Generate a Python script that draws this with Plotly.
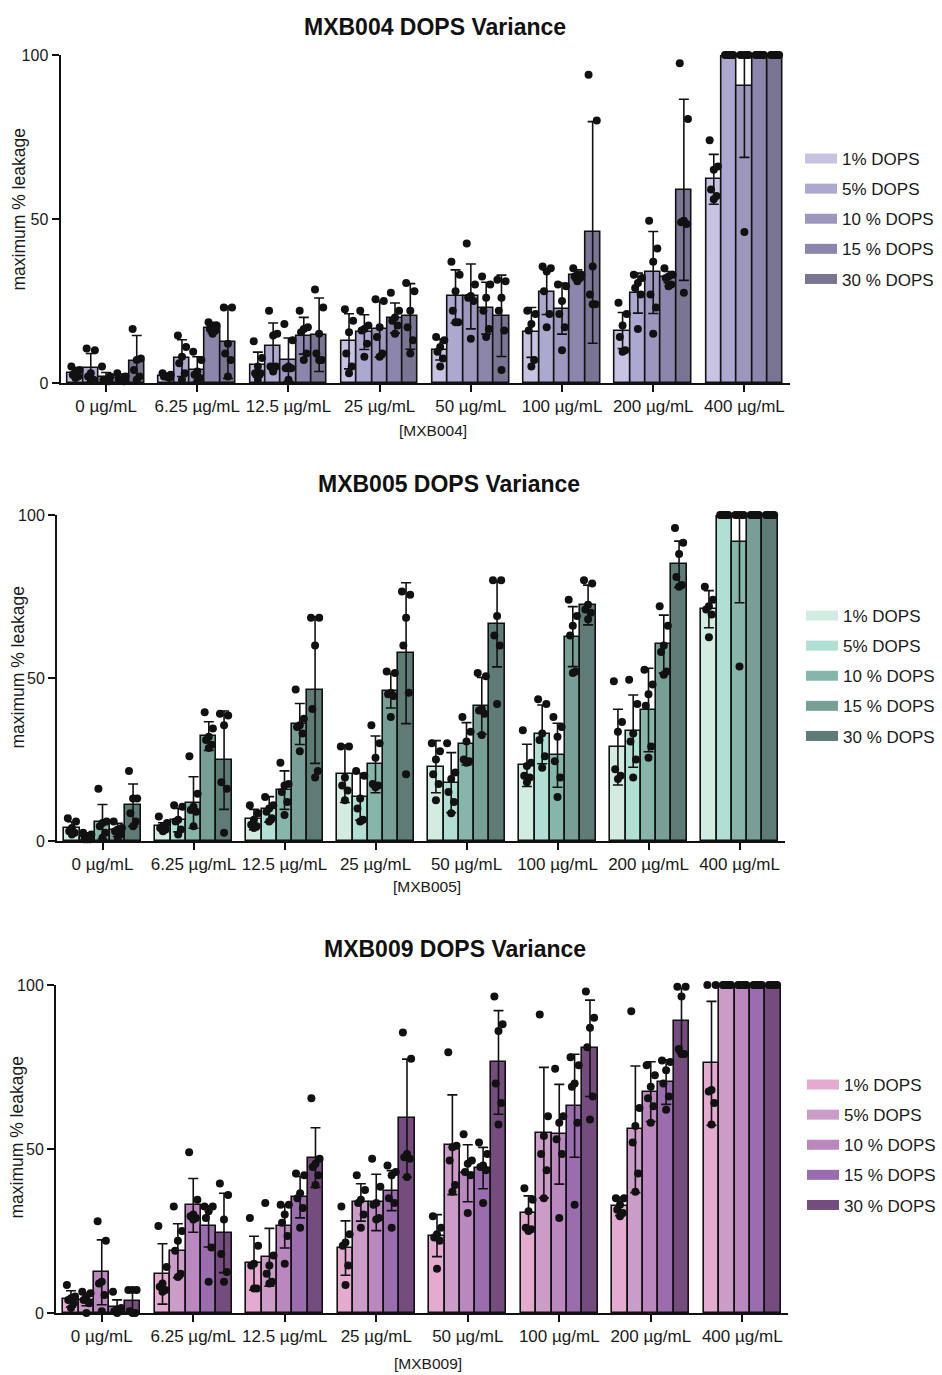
import plotly.graph_objects as go

# ---------------- data ----------------
CONCS = ["0 µg/mL", "6.25 µg/mL", "12.5 µg/mL", "25 µg/mL", "50 µg/mL",
         "100 µg/mL", "200 µg/mL", "400 µg/mL"]
SERIES = ["1% DOPS", "5% DOPS", "10 % DOPS", "15 % DOPS", "30 % DOPS"]
Y_TICKS = [0, 50, 100]

# ---- MXB004 ----
MXB004_MEAN = [
    [3.2, 2.2, 5.6, 12.7, 10.2, 15.4, 16.0, 62.1],
    [4.6, 7.6, 11.2, 15.5, 26.4, 27.7, 27.4, 100],
    [1.7, 4.1, 7.1, 16.4, 26.4, 22.7, 33.7, 90.6],
    [1.5, 16.8, 14.4, 19.8, 22.8, 32.9, 32.3, 100],
    [6.6, 12.4, 14.7, 20.3, 20.5, 45.9, 58.9, 100],
]
MXB004_SD = [
    [1.5, 0.5, 3.8, 8.4, 3.2, 7.6, 5.5, 7.6],
    [4.4, 5.6, 7.1, 5.3, 8.1, 6.8, 6.1, 0],
    [1.5, 3.9, 6.6, 8.5, 9.9, 7.8, 12.5, 21.8],
    [1.2, 1.7, 5.6, 4.6, 7.9, 1.6, 1.7, 0],
    [7.9, 11.0, 11.2, 10.0, 12.4, 33.8, 27.6, 0],
]
MXB004_PTS = [
    [[5, 4, 3.5, 2.5, 2, 1.5], [3, 2.5, 2, 2, 1.5, 2], [12.7, 7.6, 5, 3, 3, 1],
     [22.5, 19, 15.5, 9, 5, 3], [14, 13, 11, 9.5, 7.5, 5], [22, 21, 18, 16, 7, 5],
     [24.5, 21, 17.5, 14, 10, 9.5], [74, 66, 65, 59, 57, 56]],
    [[10.5, 10, 3, 2, 1, 1], [14.5, 11, 8, 6, 3, 1], [22, 15, 14.5, 5, 5, 3.5],
     [22, 17.5, 16.5, 16, 12, 8], [37, 33, 28, 22, 18.5, 18.5], [35.5, 35, 34, 28, 21, 17],
     [33, 32, 30.5, 29, 27, 16.5], [100, 100, 100, 100, 100, 100]],
    [[5, 2, 1, 1, 0.5, 0.5], [9.5, 7, 3.5, 2.5, 1.5, 0.5], [18, 13, 5, 4.5, 4.5, 1],
     [25.5, 25, 17, 14, 9, 8], [42.5, 30, 26.5, 26, 25, 13.5], [30, 29.5, 25, 21, 17, 10],
     [49.5, 41, 37, 27, 23, 15], [100, 100, 100, 100, 100, 46]],
    [[3, 2, 1, 1, 0.5, 1], [18.5, 17.5, 17, 16.5, 16, 15], [22, 17, 16.5, 15.5, 9, 7],
     [27.5, 22, 20, 19, 17.5, 15], [32.5, 30, 26, 22, 16.5, 14], [35, 33, 33, 32.5, 32, 31],
     [35, 33, 32.5, 32, 30, 29.5], [100, 100, 100, 100, 100, 100]],
    [[16.5, 7.5, 7, 4, 2, 1], [23, 23, 12, 9, 7, 2], [28.5, 23, 15, 9, 7, 7],
     [30.5, 28, 22, 17, 13, 9], [31.5, 31, 26, 22, 16, 4], [94, 80, 35.5, 27, 24, 24],
     [97.5, 80.5, 49.5, 49, 48.5, 27.5], [100, 100, 100, 100, 100, 100]],
]

# ---- MXB005 ----
MXB005_MEAN = [
    [4.1, 4.6, 6.6, 20.6, 22.8, 23.2, 28.8, 71.1],
    [1.3, 6.4, 9.7, 13.6, 17.9, 32.7, 33.7, 100],
    [5.9, 11.8, 15.6, 23.5, 29.8, 26.3, 40.2, 91.8],
    [3.4, 32.2, 35.9, 46.1, 41.5, 62.7, 60.4, 100],
    [11.0, 24.8, 46.3, 57.6, 66.5, 72.4, 84.9, 100],
]
MXB005_SD = [
    [1.8, 1.0, 3.1, 8.8, 8.0, 6.5, 11.6, 5.7],
    [1.0, 3.6, 3.9, 7.2, 9.2, 9.0, 11.1, 0],
    [5.3, 7.9, 5.9, 8.7, 6.5, 9.8, 12.8, 18.7],
    [2.0, 4.4, 6.3, 5.3, 8.7, 9.2, 8.9, 0],
    [6.5, 15.1, 22.5, 21.6, 13.1, 6.1, 7.1, 0],
]
MXB005_PTS = [
    [[7, 6, 4, 3, 2.5, 2], [7.5, 5.5, 4.5, 4, 3.5, 3], [11, 8.5, 6.5, 5, 4.5, 4],
     [29, 29, 19.5, 17, 15.5, 12.5], [30, 27.5, 25, 20.5, 17.5, 12.5], [34, 24, 23, 20, 19.5, 18],
     [49, 36.5, 33.5, 22, 20, 19], [78, 74, 72, 71, 69.5, 62.5]],
    [[2.5, 2, 1.5, 0.5, 0.5, 0.5], [11, 10.5, 6.5, 6, 3.5, 2], [13.5, 11, 10, 9, 7, 6],
     [21.5, 20, 13, 10, 6.5, 6], [30, 21, 19, 15, 12, 8.5], [43.5, 42, 33, 31, 26, 22.5],
     [49.5, 42, 33, 30.5, 25, 19.5], [100, 100, 100, 100, 100, 100]],
    [[16, 6, 5.5, 4.5, 2.5, 1], [26, 14.5, 10.5, 9.5, 9, 4.5], [24, 17.5, 17, 15, 12, 8],
     [35.5, 30, 25.5, 17.5, 17, 16.5], [38, 33.5, 30.5, 25, 24.5, 24], [38, 35, 32, 24.5, 19.5, 13.5],
     [52.5, 48, 45, 41.5, 29, 25.5], [100, 100, 100, 100, 100, 53.5]],
    [[6, 4, 3.5, 3, 2, 1], [39.5, 34.5, 32, 31, 29.5, 28.5], [46.5, 37.5, 35.5, 35, 33, 27.5],
     [52, 51.5, 45.5, 45, 44.5, 38], [51.5, 50.5, 40.5, 40, 39, 32.5], [74, 69, 66, 63, 52, 51.5],
     [72, 66, 60, 58, 52, 51], [100, 100, 100, 100, 100, 100]],
    [[21.5, 13, 13, 8.5, 6, 4.5], [39, 38.5, 35.5, 18, 16, 2.5], [68.5, 68.5, 60, 40.5, 21.5, 19.5],
     [76.5, 75.5, 68.5, 60, 45.5, 20.5], [80, 80, 69, 63, 60, 42], [80, 79, 72.5, 71, 70, 68],
     [96, 91.5, 88, 81, 78.5, 78], [100, 100, 100, 100, 100, 100]],
]

# ---- MXB009 ----
MXB009_MEAN = [
    [4.3, 11.9, 15.2, 19.8, 23.6, 30.5, 32.5, 76.1],
    [4.1, 19.0, 17.0, 33.7, 51.3, 55.0, 56.0, 100],
    [12.4, 32.8, 26.4, 33.7, 42.6, 54.5, 67.5, 100],
    [1.7, 26.4, 35.3, 37.3, 44.2, 63.2, 70.4, 100],
    [3.6, 24.4, 47.4, 59.4, 76.4, 80.7, 89.1, 100],
]
MXB009_SD = [
    [2.5, 9.2, 8.2, 8.3, 6.4, 5.2, 2.8, 18.9],
    [1.9, 8.2, 8.8, 5.7, 15.2, 19.9, 19.3, 0],
    [9.9, 8.2, 6.6, 8.6, 8.7, 15.2, 9.1, 0],
    [2.3, 6.3, 6.3, 6.1, 6.3, 15.7, 6.8, 0],
    [3.5, 12.1, 9.1, 18.0, 15.8, 14.7, 9.9, 0],
]
MXB009_PTS = [
    [[8.5, 5, 4.5, 4, 3, 1.5], [26.5, 14, 9, 8, 7, 6.5], [29, 20.5, 15, 14.5, 7.5, 7.5],
     [32.5, 24, 21.5, 20.5, 14.5, 8.5], [29.5, 26, 24, 23, 22, 13.5], [38, 34.5, 31, 26, 25.5, 25],
     [35, 35, 33, 31.5, 30.5, 29.5], [100, 100, 68, 67.5, 64, 57.5]],
    [[6.5, 6, 5, 4, 3, 0], [32.5, 25, 22, 19, 12, 11], [33.5, 17.5, 14.5, 12, 9.5, 9],
     [42, 37.5, 34.5, 33.5, 30, 26], [79.5, 51, 50.5, 46.5, 39, 37], [91, 60, 54, 48.5, 43.5, 35],
     [92, 62.5, 57, 52, 42.5, 37], [100, 100, 100, 100, 100, 100]],
    [[28, 22, 9.5, 9, 5.5, 0.5], [49, 34.5, 30, 29.5, 29, 28.5], [33, 33, 30, 27.5, 23.5, 15],
     [47, 38.5, 33.5, 33, 29, 28.5], [54.5, 46.5, 45.5, 43, 42, 30.5], [74.5, 60, 58, 53, 48.5, 29],
     [75.5, 72.5, 69, 65.5, 63, 58], [100, 100, 100, 100, 100, 100]],
    [[6.5, 1.5, 1, 0.5, 0.5, 0], [32.5, 32.5, 31, 29, 20, 9.5], [42.5, 42, 36.5, 35, 32, 26],
     [45, 43, 42, 35, 33.5, 26], [52, 48.5, 45, 44.5, 43.5, 33.5], [78, 75.5, 70, 69, 58, 33],
     [77, 76.5, 74, 70, 66, 62], [100, 100, 100, 100, 100, 100]],
    [[7, 7, 7, 0.5, 0, 0], [39.5, 36, 28.5, 18, 12.5, 9.5], [65.5, 47, 45.5, 44.5, 42, 39],
     [85.5, 77.5, 48.5, 47.5, 47, 41.5], [96.5, 88, 86, 70, 64, 57.5], [98, 90, 87, 81, 66, 59],
     [99.5, 99.5, 96.5, 80.5, 79, 79], [100, 100, 100, 100, 100, 100]],
]

COLORS_004 = ["#C8C3E3", "#ADA8D0", "#9D97BE", "#8C86AD", "#7B7594"]
COLORS_005 = ["#D2ECE1", "#B0E0D3", "#86B6AA", "#779F96", "#5F7B76"]
COLORS_009 = ["#E4AAD0", "#CB9CC8", "#BA87BF", "#9A6DAF", "#744C7E"]

# ---------------- layout helpers ----------------
W, H = 942, 1375
FONT = "Liberation Sans, Arial, Helvetica, sans-serif"
TXT = "#1a1a1a"
INK = "#111111"


def px(x):
    return x / W


def py(y):
    return 1 - y / H


PANELS = [
    dict(title="MXB004 DOPS Variance", xlabel="[MXB004]", mean=MXB004_MEAN, sd=MXB004_SD,
         pts=MXB004_PTS, colors=COLORS_004, xdom=(60.5, 790), ydom=(383, 55),
         title_pos=(435, 27), xlab_pos=(433, 430), ylab_pos=(18.5, 210), leg_pos=(800, 141)),
    dict(title="MXB005 DOPS Variance", xlabel="[MXB005]", mean=MXB005_MEAN, sd=MXB005_SD,
         pts=MXB005_PTS, colors=COLORS_005, xdom=(57, 785), ydom=(841, 515),
         title_pos=(449, 484), xlab_pos=(427, 886), ylab_pos=(17.5, 668), leg_pos=(801, 598)),
    dict(title="MXB009 DOPS Variance", xlabel="[MXB009]", mean=MXB009_MEAN, sd=MXB009_SD,
         pts=MXB009_PTS, colors=COLORS_009, xdom=(56, 788), ydom=(1313, 985),
         title_pos=(455, 949), xlab_pos=(428, 1363), ylab_pos=(16.5, 1138), leg_pos=(802, 1067)),
]

BW = 0.168                       # bar width (category units)
JIT = [-0.045, 0.045, 0.0, -0.03, 0.03, 0.0]   # horizontal spread of the dots

fig = go.Figure()
annotations = []
layout_axes = {}

for k, P in enumerate(PANELS):
    n = "" if k == 0 else str(k + 1)
    xa, ya = "x" + n, "y" + n
    leg = "legend" + n
    nc = len(CONCS)
    # bars with SD error bars
    for j, s in enumerate(SERIES):
        xs = [i + (j - 2) * BW for i in range(nc)]
        fig.add_trace(go.Bar(
            x=xs, y=P["mean"][j], width=BW, xaxis=xa, yaxis=ya, name=s,
            marker=dict(color=P["colors"][j], line=dict(color=INK, width=1.6)),
            error_y=dict(type="data", array=P["sd"][j], color=INK,
                         thickness=1.6, width=5),
            showlegend=False, hoverinfo="y"))
    # legend swatches
    for j, s in enumerate(SERIES):
        fig.add_trace(go.Scatter(
            x=[None], y=[None], mode="lines", xaxis=xa, yaxis=ya, name=s,
            line=dict(color=P["colors"][j], width=10), legend=leg,
            legendgroup=f"g{k}{j}", showlegend=True))
    # individual replicate points
    for j, s in enumerate(SERIES):
        xs, ys = [], []
        for i in range(nc):
            for r, v in enumerate(P["pts"][j][i]):
                xs.append(i + (j - 2) * BW + JIT[r % len(JIT)])
                ys.append(v)
        fig.add_trace(go.Scatter(
            x=xs, y=ys, mode="markers", xaxis=xa, yaxis=ya, name=s,
            marker=dict(color=INK, size=8), cliponaxis=False,
            showlegend=False, hoverinfo="y"))

    x0, x1 = P["xdom"]
    yb, yt = P["ydom"]
    layout_axes["xaxis" + n] = dict(
        domain=[px(x0), px(x1)], range=[-0.5, nc - 0.5], anchor=ya, automargin=False,
        tickvals=list(range(nc)), ticktext=CONCS, ticks="outside", ticklen=7,
        tickwidth=1.6, tickcolor=INK, showline=True, linewidth=2,
        linecolor=INK, showgrid=False, zeroline=False,
        tickfont=dict(size=17, color=TXT, family=FONT), fixedrange=True)
    layout_axes["yaxis" + n] = dict(
        domain=[py(yb), py(yt)], range=[0, 100], anchor=xa, automargin=False,
        tickvals=Y_TICKS, ticks="outside", ticklen=7, tickwidth=1.6,
        tickcolor=INK, showline=True, linewidth=2, linecolor=INK,
        showgrid=False, zeroline=False,
        tickfont=dict(size=16, color=TXT, family=FONT), fixedrange=True)
    layout_axes[leg] = dict(
        x=px(P["leg_pos"][0]), y=py(P["leg_pos"][1]), xanchor="left", yanchor="top",
        font=dict(size=17, color=TXT, family=FONT), bgcolor="rgba(0,0,0,0)",
        tracegroupgap=5, itemwidth=32, traceorder="grouped")

    annotations.append(dict(
        text="<b>" + P["title"] + "</b>", x=px(P["title_pos"][0]), y=py(P["title_pos"][1]),
        xref="paper", yref="paper", showarrow=False, xanchor="center", yanchor="middle",
        font=dict(size=23, color=INK, family=FONT)))
    annotations.append(dict(
        text=P["xlabel"], x=px(P["xlab_pos"][0]), y=py(P["xlab_pos"][1]),
        xref="paper", yref="paper", showarrow=False, xanchor="center", yanchor="middle",
        font=dict(size=15.5, color=TXT, family=FONT)))
    annotations.append(dict(
        text="maximum % leakage", x=px(P["ylab_pos"][0]), y=py(P["ylab_pos"][1]),
        xref="paper", yref="paper", showarrow=False, xanchor="center", yanchor="middle",
        textangle=-90, font=dict(size=17.5, color=TXT, family=FONT)))

fig.update_layout(
    width=W, height=H, autosize=False,
    margin=dict(l=0, r=0, t=0, b=0, autoexpand=False),
    paper_bgcolor="white", plot_bgcolor="white",
    barmode="overlay", bargap=0,
    font=dict(family=FONT, color=TXT),
    annotations=annotations,
    **layout_axes,
)

fig.write_html("out.html", config={"displayModeBar": False},
               post_script="document.body.style.margin='0';")
